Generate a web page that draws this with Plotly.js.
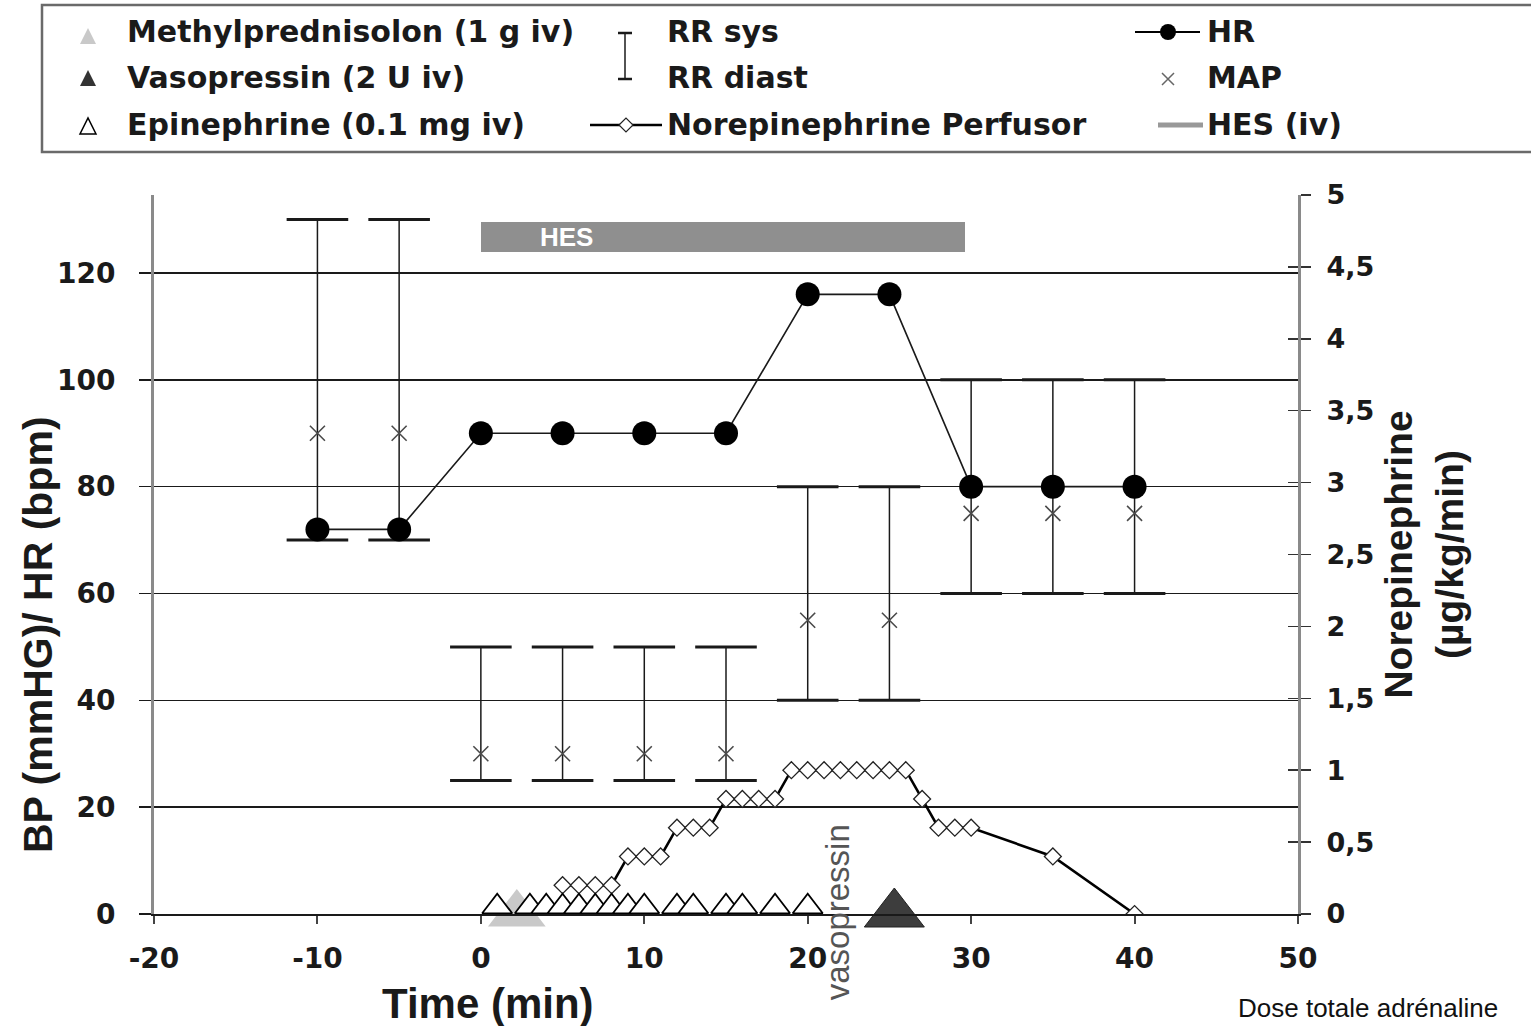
<!DOCTYPE html>
<html>
<head>
<meta charset="utf-8">
<script src="https://cdn.plot.ly/plotly-3.0.1.min.js"></script>
<style>html,body{margin:0;padding:0;background:#fff;}#chart{width:1531px;height:1026px;}</style>
</head>
<body>
<div id="chart"></div>
<script>
// ---------- data ----------
const timeBP   = [-10, -5, 0, 5, 10, 15, 20, 25, 30, 35, 40];
const rrSys    = [130, 130, 50, 50, 50, 50, 80, 80, 100, 100, 100];
const rrDiast  = [70, 70, 25, 25, 25, 25, 40, 40, 60, 60, 60];
const mapVals  = [90, 90, 30, 30, 30, 30, 55, 55, 75, 75, 75];
const hrVals   = [72, 72, 90, 90, 90, 90, 116, 116, 80, 80, 80];

const noreTime = [5, 6, 7, 8, 9, 10, 11, 12, 13, 14, 15, 16, 17, 18, 19, 20, 21, 22, 23, 24, 25, 26, 27, 28, 29, 30, 35, 40];
const noreDose = [0.2, 0.2, 0.2, 0.2, 0.4, 0.4, 0.4, 0.6, 0.6, 0.6, 0.8, 0.8, 0.8, 0.8, 1, 1, 1, 1, 1, 1, 1, 1, 0.8, 0.6, 0.6, 0.6, 0.4, 0];

const epiTime  = [1, 3, 4, 5, 6, 7, 8, 9, 10, 12, 13, 15, 16, 18, 20];
const epiY     = [0.05, 0.05, 0.05, 0.05, 0.05, 0.05, 0.05, 0.05, 0.05, 0.05, 0.05, 0.05, 0.05, 0.05, 0.05];
const methylTime = [2.2];
const methylY    = [0];
const vasoTime   = [25.3];
const vasoY      = [0];

const hesStart = [0];
const hesEnd   = [29.6];
const hesLevel = [126.7];

const xTickVals = [-20, -10, 0, 10, 20, 30, 40, 50];
const xTickText = ['-20', '-10', '0', '10', '20', '30', '40', '50'];
const yTickVals = [0, 20, 40, 60, 80, 100, 120];
const y2TickVals = [0, 0.5, 1, 1.5, 2, 2.5, 3, 3.5, 4, 4.5, 5];
const y2TickText = ['0', '0,5', '1', '1,5', '2', '2,5', '3', '3,5', '4', '4,5', '5'];

// ---------- helpers (pixel -> paper) ----------
const L = 154, R = 1298, T = 195, B = 914;
const P = x => (x - L) / (R - L);
const Q = y => (B - y) / (B - T);

const BOLD = {family: 'DejaVu Sans', weight: 'bold'};
const ink = '#1a1a1a';

const traces = [
  { // HES bar
    type: 'bar', orientation: 'h', name: 'HES (iv)',
    y: hesLevel, base: hesStart, x: hesEnd.map((e, i) => e - hesStart[i]),
    width: [5.6], marker: {color: '#8f8f8f', line: {width: 0}},
    xaxis: 'x', yaxis: 'y', showlegend: false, hoverinfo: 'skip'
  },
  { // RR sys caps + stems down to diast
    type: 'scatter', mode: 'markers', name: 'RR sys',
    x: timeBP, y: rrSys,
    marker: {symbol: 'line-ew', size: 44, color: ink, line: {width: 3, color: ink}},
    error_y: {type: 'data', symmetric: false, array: rrSys.map(() => 0),
              arrayminus: rrSys.map((s, i) => s - rrDiast[i]),
              width: 0, thickness: 1.5, color: ink},
    cliponaxis: false, showlegend: false
  },
  {
    type: 'scatter', mode: 'markers', name: 'RR diast',
    x: timeBP, y: rrDiast,
    marker: {symbol: 'line-ew', size: 44, color: ink, line: {width: 3, color: ink}},
    cliponaxis: false, showlegend: false
  },
  {
    type: 'scatter', mode: 'markers', name: 'MAP',
    x: timeBP, y: mapVals,
    marker: {symbol: 'x-thin-open', size: 15, color: '#4a4a4a', line: {width: 1.6, color: '#4a4a4a'}},
    showlegend: false
  },
  {
    type: 'scatter', mode: 'lines+markers', name: 'HR',
    x: timeBP, y: hrVals,
    line: {color: ink, width: 1.6},
    marker: {symbol: 'circle', size: 24, color: '#000'},
    showlegend: false
  },
  {
    type: 'scatter', mode: 'lines+markers', name: 'Norepinephrine Perfusor',
    x: noreTime, y: noreDose, yaxis: 'y2',
    line: {color: '#000', width: 2.6},
    marker: {symbol: 'diamond', size: 13, color: '#fff', line: {width: 1.3, color: '#222'}},
    showlegend: false
  },
  {
    type: 'scatter', mode: 'markers', name: 'Methylprednisolon (1 g iv)',
    x: methylTime, y: methylY, yaxis: 'y3',
    marker: {symbol: 'triangle-up', size: 50, color: '#c9c9c9', line: {width: 0}},
    cliponaxis: false, showlegend: false
  },
  {
    type: 'scatter', mode: 'markers', name: 'Epinephrine (0.1 mg iv)',
    x: epiTime, y: epiY, yaxis: 'y3',
    marker: {symbol: 'triangle-up', size: 26, color: '#fff', line: {width: 1.8, color: '#000'}},
    cliponaxis: false, showlegend: false
  },
  {
    type: 'scatter', mode: 'markers', name: 'Vasopressin (2 U iv)',
    x: vasoTime, y: vasoY, yaxis: 'y3',
    marker: {symbol: 'triangle-up', size: 52, color: '#3d3d3d', line: {width: 1, color: '#222'}},
    cliponaxis: false, showlegend: false
  }
];

// ---------- legend (drawn as annotations + shapes) ----------
const legFont = Object.assign({size: 30, color: ink}, BOLD);
const legText = (txt, x, y) => ({text: txt, xref: 'paper', yref: 'paper', x: P(x), y: Q(y),
  xanchor: 'left', yanchor: 'middle', showarrow: false, font: legFont});
const pix = (x, y, path, fill, line) => ({type: 'path', xref: 'paper', yref: 'paper',
  xsizemode: 'pixel', ysizemode: 'pixel', xanchor: P(x), yanchor: Q(y), path: path,
  fillcolor: fill, line: line, layer: 'above'});
const pline = (x0, x1, y0, y1, color, w) => ({type: 'line', xref: 'paper', yref: 'paper',
  x0: P(x0), x1: P(x1), y0: Q(y0), y1: Q(y1), line: {color: color, width: w}, layer: 'above'});

const shapes = [
  {type: 'rect', xref: 'paper', yref: 'paper', x0: P(42), x1: P(1545), y0: Q(152), y1: Q(5),
   line: {color: '#6a6a6a', width: 2.5}, fillcolor: 'rgba(0,0,0,0)', layer: 'above'},
  pix(88, 37, 'M-8,-7L8,-7L0,9Z', '#c9c9c9', {width: 0}),
  pix(88, 79, 'M-8,-7L8,-7L0,9Z', '#333', {width: 0}),
  pix(88, 127, 'M-8,-7L8,-7L0,9Z', '#fff', {width: 1.5, color: '#000'}),
  pline(625, 625, 33, 79, ink, 1.5),
  pline(618, 632, 33, 33, ink, 2.5),
  pline(618, 632, 79, 79, ink, 2.5),
  pline(590, 662, 125, 125, '#000', 2.5),
  pix(626, 125, 'M-7,0L0,7L7,0L0,-7Z', '#fff', {width: 1.2, color: '#222'}),
  pline(1135, 1200, 32, 32, '#000', 2),
  {type: 'circle', xref: 'paper', yref: 'paper', xsizemode: 'pixel', ysizemode: 'pixel',
   xanchor: P(1168), yanchor: Q(32), x0: -8, x1: 8, y0: -8, y1: 8, fillcolor: '#000',
   line: {width: 0}, layer: 'above'},
  pix(1168, 79, 'M-6,-6L6,6M-6,6L6,-6', 'rgba(0,0,0,0)', {width: 1.5, color: '#666'}),
  pline(1158, 1203, 125, 125, '#999', 5)
];

const annotations = [
  legText('Methylprednisolon (1 g iv)', 125, 32),
  legText('Vasopressin (2 U iv)', 125, 78),
  legText('Epinephrine (0.1 mg iv)', 125, 125),
  legText('RR sys', 665, 32),
  legText('RR diast', 665, 78),
  legText('Norepinephrine Perfusor', 665, 125),
  legText('HR', 1205, 32),
  legText('MAP', 1205, 78),
  legText('HES (iv)', 1205, 125),
  { // HES label inside bar
    text: 'HES', xref: 'x', yref: 'y', x: hesStart[0], y: hesLevel[0], xshift: 86,
    xanchor: 'center', yanchor: 'middle', showarrow: false,
    font: {family: 'Liberation Sans', weight: 'bold', size: 26, color: '#fff'}
  },
  { // vasopressin label
    text: 'vasopressin', xref: 'x', yref: 'y3', x: vasoTime[0], y: vasoY[0], xshift: -57, yshift: 2,
    textangle: -90, xanchor: 'center', yanchor: 'middle', showarrow: false,
    font: {family: 'Liberation Sans', size: 33, color: '#555'}
  },
  { // x title
    text: 'Time (min)', xref: 'paper', yref: 'paper', x: P(488), y: Q(1003),
    xanchor: 'center', yanchor: 'middle', showarrow: false,
    font: {family: 'Liberation Sans', weight: 'bold', size: 42, color: ink}
  },
  { // y title
    text: 'BP (mmHG)/ HR (bpm)', xref: 'paper', yref: 'paper', x: P(38), y: Q(635),
    textangle: -90, xanchor: 'center', yanchor: 'middle', showarrow: false,
    font: {family: 'Liberation Sans', weight: 'bold', size: 41, color: ink}
  },
  { // caption at the bottom right (partly cut in the source)
    text: 'Dose totale adrénaline', xref: 'paper', yref: 'paper', x: P(1236), y: Q(1008),
    xanchor: 'left', yanchor: 'middle', showarrow: false,
    font: {family: 'Liberation Sans', size: 26, color: '#111'}
  }
];

const layout = {
  width: 1531, height: 1026,
  margin: {l: L, r: 1531 - R, t: T, b: 1026 - B, pad: 0},
  paper_bgcolor: '#fff', plot_bgcolor: '#fff',
  separators: ', ',
  showlegend: false,
  font: {family: 'DejaVu Sans', color: ink},
  xaxis: {
    range: [-20, 50], tickmode: 'array', tickvals: xTickVals, ticktext: xTickText,
    ticks: 'outside', ticklen: 8, tickwidth: 2, tickcolor: '#444',
    showline: true, linecolor: ink, linewidth: 2, showgrid: false, zeroline: false,
    tickfont: Object.assign({size: 28, color: ink}, BOLD), ticklabelstandoff: 10,
    fixedrange: true
  },
  yaxis: {
    range: [0, 134.6], tickmode: 'array', tickvals: yTickVals,
    ticks: 'outside', ticklen: 12, tickwidth: 1.5, tickcolor: ink,
    showline: true, linecolor: '#8a8a8a', linewidth: 3,
    showgrid: true, gridcolor: ink, gridwidth: 1.6, zeroline: false,
    tickfont: Object.assign({size: 28, color: ink}, BOLD), ticklabelstandoff: 18,
    fixedrange: true
  },
  yaxis2: {
    overlaying: 'y', side: 'right', range: [0, 5], tickmode: 'array',
    tickvals: y2TickVals, ticktext: y2TickText,
    ticks: 'outside', ticklen: 10, tickwidth: 1.5, tickcolor: '#333',
    showline: true, linecolor: '#8a8a8a', linewidth: 3,
    showgrid: false, zeroline: false,
    tickfont: Object.assign({size: 27, color: ink}, BOLD), ticklabelstandoff: 10,
    title: {text: 'Norepinephrine<br>(µg/kg/min)', standoff: 12,
            font: {family: 'Liberation Sans', weight: 'bold', size: 39, color: ink}},
    fixedrange: true
  },
  yaxis3: {
    overlaying: 'y', side: 'right', anchor: 'x', range: [0, 5], tickmode: 'array',
    tickvals: y2TickVals, ticks: 'inside', ticklen: 10, tickwidth: 1.5, tickcolor: '#333',
    showticklabels: false, showline: false, showgrid: false, zeroline: false,
    fixedrange: true
  },
  bargap: 0,
  shapes: shapes,
  annotations: annotations
};

Plotly.newPlot('chart', traces, layout, {staticPlot: true, displayModeBar: false});
</script>
</body>
</html>
